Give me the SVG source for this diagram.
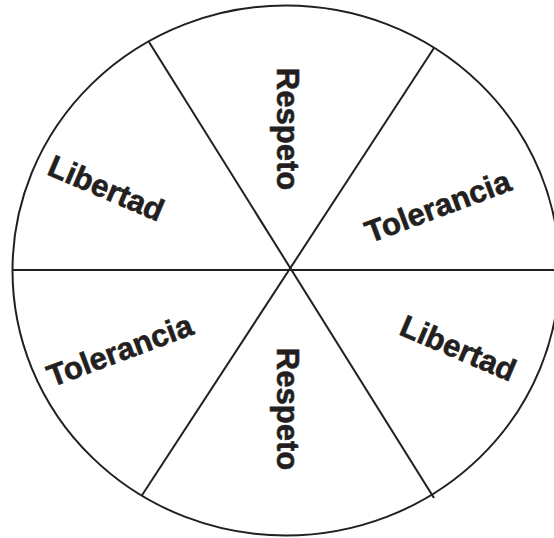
<svg xmlns="http://www.w3.org/2000/svg" width="554" height="538" viewBox="0 0 554 538">
  <style>
    .ln { stroke: #231f20; stroke-width: 2; fill: none; }
    .lbl { font-family: "Liberation Sans", Arial, sans-serif; font-weight: bold; font-size: 31px; fill: #231f20; stroke: #231f20; stroke-width: 0.6; text-anchor: middle; }
  </style>
  <rect width="554" height="538" fill="#ffffff"/>
  <g id="wheel">
    <ellipse class="ln" cx="286" cy="270.5" rx="273.5" ry="265"/>
  </g>
  <g id="connectors">
    <line class="ln" x1="12.5" y1="270" x2="560" y2="270"/>
    <line class="ln" x1="149" y1="42" x2="434" y2="498"/>
    <line class="ln" x1="434" y1="48" x2="141.5" y2="496"/>
  </g>
  <g id="seg-respeto-top">
    <text class="lbl" transform="translate(277,129) rotate(90)">Respeto</text>
  </g>
  <g id="seg-tolerancia-right">
    <text class="lbl" transform="translate(441.5,216.5) rotate(-20.5)">Tolerancia</text>
  </g>
  <g id="seg-libertad-right">
    <text class="lbl" transform="translate(454,358) rotate(23)">Libertad</text>
  </g>
  <g id="seg-respeto-bottom">
    <text class="lbl" transform="translate(277,409) rotate(90)">Respeto</text>
  </g>
  <g id="seg-tolerancia-left">
    <text class="lbl" transform="translate(123.5,360.5) rotate(-20.5)">Tolerancia</text>
  </g>
  <g id="seg-libertad-left">
    <text class="lbl" transform="translate(102,198) rotate(23)">Libertad</text>
  </g>
</svg>
